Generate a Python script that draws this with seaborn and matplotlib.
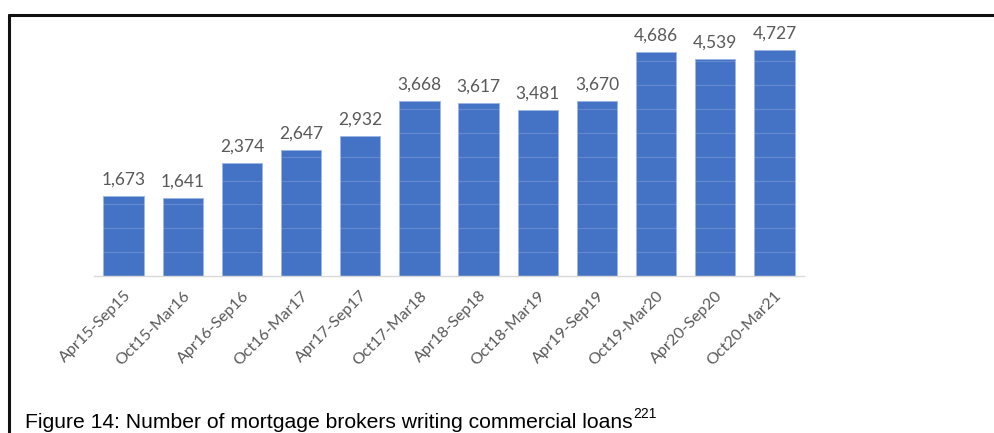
import matplotlib
matplotlib.use("Agg")
import matplotlib.pyplot as plt
from matplotlib.lines import Line2D
import seaborn as sns
import pandas as pd

# Half-year periods and number of brokers writing commercial loans
periods = ["Apr15-Sep15", "Oct15-Mar16", "Apr16-Sep16", "Oct16-Mar17",
           "Apr17-Sep17", "Oct17-Mar18", "Apr18-Sep18", "Oct18-Mar19",
           "Apr19-Sep19", "Oct19-Mar20", "Apr20-Sep20", "Oct20-Mar21"]
brokers = [1673, 1641, 2374, 2647, 2932, 3668, 3617, 3481, 3670, 4686, 4539, 4727]

caption = "Figure 14: Number of mortgage brokers writing commercial loans"
footnote = "221"

df = pd.DataFrame({"period": periods, "brokers": brokers})

sns.set_theme(style="white")
plt.rcParams["font.family"] = ["Lato", "DejaVu Sans"]

W, H = 994, 433
fig = plt.figure(figsize=(W / 100, H / 100), dpi=100)
fig.patch.set_facecolor("white")

# plot area in pixels: x 94..804, y 37..276 (from top)
ax = fig.add_axes([94 / W, (H - 276) / H, (804 - 94) / W, (276 - 37.3) / H])

sns.barplot(data=df, x="period", y="brokers", color="#4472C4", saturation=1,
            width=0.68, edgecolor="#9db5e3", linewidth=0.6, ax=ax, zorder=2)

ax.set_ylim(0, 5000)
ax.set_xlim(-0.5, len(periods) - 0.5)
ax.set_xlabel("")
ax.set_ylabel("")
ax.set_yticks(range(0, 5001, 500))
ax.set_yticklabels([])
ax.tick_params(axis="y", length=0)
ax.yaxis.grid(True, color="white", alpha=0.16, linewidth=0.9, zorder=3)
ax.set_axisbelow(False)

for side in ("top", "right", "left"):
    ax.spines[side].set_visible(False)
ax.spines["bottom"].set_color("#d9d9d9")
ax.spines["bottom"].set_linewidth(1.0)
ax.spines["bottom"].set_zorder(4)

ax.tick_params(axis="x", length=0, pad=9, colors="#595959", labelsize=11.5)
for lbl in ax.get_xticklabels():
    lbl.set_rotation(45)
    lbl.set_ha("right")
    lbl.set_rotation_mode("anchor")
    lbl.set_color("#595959")

for cont in ax.containers:
    ax.bar_label(cont, labels=[f"{v:,}" for v in brokers], padding=6,
                 fontsize=12.5, color="#595959")

# frame lines around the chart block
fig.add_artist(Line2D([9 / W, 1.0], [(H - 15) / H, (H - 15) / H],
                      color="#111111", linewidth=2.2, transform=fig.transFigure))
fig.add_artist(Line2D([9 / W, 9 / W], [(H - 15) / H, 0.0],
                      color="#111111", linewidth=2.2, transform=fig.transFigure))

# caption with superscript footnote reference
base_y = (H - 427.5) / H
cap = fig.text(25 / W, base_y, caption, fontsize=15.2,
               family=["Liberation Sans", "DejaVu Sans"], color="black",
               va="baseline", ha="left")
fig.canvas.draw()
bb = cap.get_window_extent()
fig.text(bb.x1 / W + 1 / W, base_y + 9 / H, footnote, fontsize=10,
         family=["Liberation Sans", "DejaVu Sans"], color="black",
         va="baseline", ha="left")

fig.savefig("out.png", dpi=100, facecolor="white")
